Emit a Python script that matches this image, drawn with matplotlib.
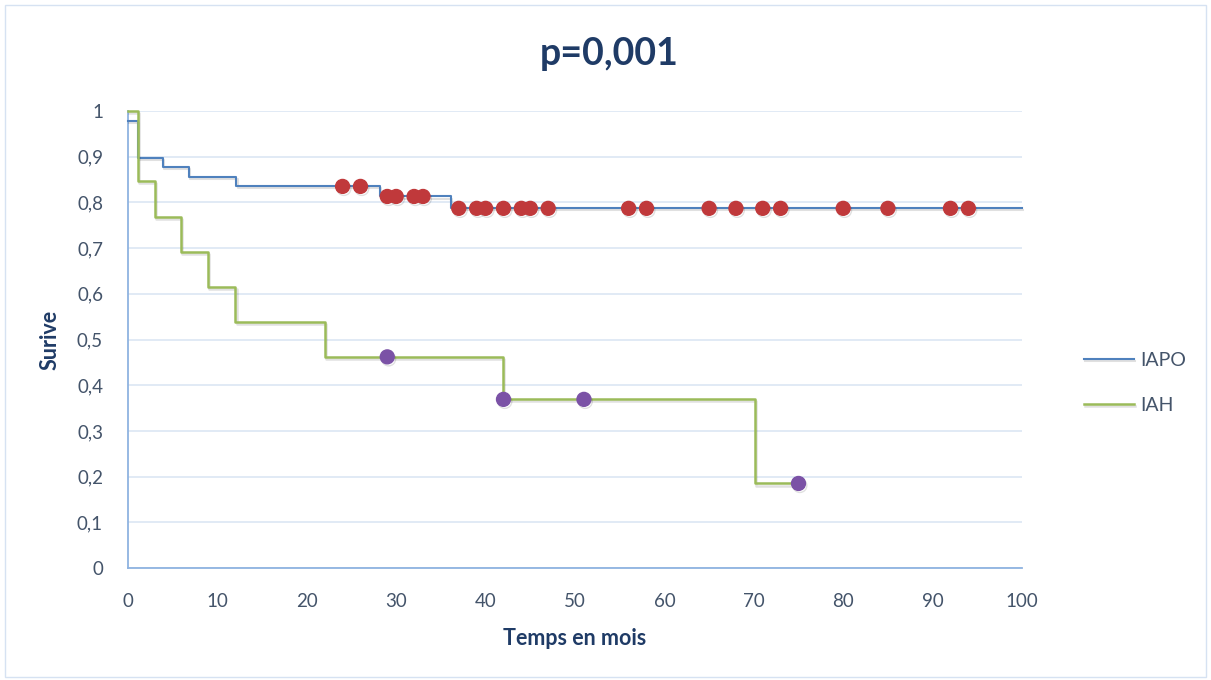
import matplotlib
matplotlib.use("Agg")
import matplotlib.pyplot as plt
import matplotlib.patheffects as pe
from matplotlib.patches import Rectangle

# ---- data ----
iapo_times = [0, 1.1, 3.9, 6.8, 12.1, 28.2, 36.1, 100]
iapo_surv = [0.978, 0.897, 0.877, 0.856, 0.835, 0.813, 0.787, 0.787]
iapo_cens_t = [24, 26, 29, 30, 32, 33, 37, 39, 40, 42, 44, 45, 47, 56, 58, 65, 68, 71, 73, 80, 85, 92, 94]
iapo_cens_s = [0.835, 0.835, 0.813, 0.813, 0.813, 0.813] + [0.787] * 17

iah_times = [0, 1.1, 3.0, 5.9, 8.9, 12.0, 22.0, 41.9, 70.1, 75]
iah_surv = [1.0, 0.846, 0.769, 0.692, 0.615, 0.538, 0.462, 0.369, 0.185, 0.185]
iah_cens_t = [29, 42, 51, 75]
iah_cens_s = [0.462, 0.369, 0.369, 0.185]

title = "p=0,001"
xlabel = "Temps en mois"
ylabel = "Surive"
x_ticks = list(range(0, 101, 10))
y_ticks = [i / 10 for i in range(0, 11)]
y_tick_labels = ["0", "0,1", "0,2", "0,3", "0,4", "0,5", "0,6", "0,7", "0,8", "0,9", "1"]

# ---- style ----
plt.rcParams['font.family'] = ['Lato', 'DejaVu Sans']
BLUE = "#4F81BD"
GREEN = "#9BBB59"
RED = "#C0393B"
PURPLE = "#7B52A6"
TXT = "#44546A"
DARK = "#1F3B66"

fig = plt.figure(figsize=(12.11, 6.80), dpi=100)
fig.patches.append(Rectangle((0.004, 0.004), 0.992, 0.988, transform=fig.transFigure,
                             fill=False, edgecolor="#D6E2F2", linewidth=1.0))
ax = fig.add_axes([128 / 1211, 1 - 568 / 680, (1022 - 128) / 1211, (568 - 111) / 680])

shadow = [pe.SimpleLineShadow(offset=(1.0, -1.5), alpha=0.12, shadow_color="black"), pe.Normal()]

ax.step(iapo_times, iapo_surv, where="post", color=BLUE, lw=1.5, label="IAPO",
        clip_on=False, zorder=3, path_effects=shadow)
ax.step(iah_times, iah_surv, where="post", color=GREEN, lw=1.8, label="IAH",
        clip_on=False, zorder=3, path_effects=shadow)
ax.plot(iapo_cens_t, iapo_cens_s, "o", color=RED, ms=10, ls="none", zorder=4,
        clip_on=False, path_effects=shadow)
ax.plot(iah_cens_t, iah_cens_s, "o", color=PURPLE, ms=10, ls="none", zorder=4,
        clip_on=False, path_effects=shadow)

ax.set_xlim(0, 100)
ax.set_ylim(0, 1)
ax.set_xticks(x_ticks)
ax.set_yticks(y_ticks)
ax.set_yticklabels(y_tick_labels)
ax.tick_params(axis="both", length=0, labelsize=13.5, colors=TXT)
ax.tick_params(axis="x", pad=18)
ax.tick_params(axis="y", pad=18)
ax.grid(axis="y", color="#DCE6F4", lw=1.2)
ax.set_axisbelow(True)
for s in ["top", "right"]:
    ax.spines[s].set_visible(False)
for s in ["left", "bottom"]:
    ax.spines[s].set_color("#8FB3E0")
    ax.spines[s].set_linewidth(1.3)

ax.set_xlabel(xlabel, fontsize=15.5, fontweight="bold", color=DARK, labelpad=13)
ax.set_ylabel(ylabel, fontsize=15.5, fontweight="bold", color=DARK, labelpad=12)
fig.text(609 / 1211, 1 - 54 / 680, title, ha="center", va="center", fontsize=27,
         fontweight="bold", color=DARK)

leg = fig.legend(loc="center left", bbox_to_anchor=(1066 / 1211, 1 - 383 / 680), frameon=False,
                 fontsize=14, handlelength=2.6, handletextpad=0.3, labelspacing=1.45)
for t in leg.get_texts():
    t.set_color(TXT)

fig.savefig("out.png", dpi=100)
